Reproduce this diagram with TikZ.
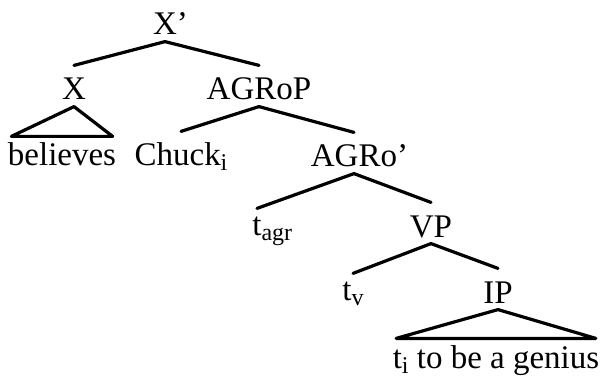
\documentclass[tikz,border=0pt]{standalone}
\usepackage{fontspec}
\setmainfont{Liberation Serif}
\usetikzlibrary{positioning}
\newcommand{\idx}[1]{\raisebox{-5pt}{\fontsize{24}{24}\selectfont #1}}

\begin{document}
\begin{tikzpicture}[x=1pt,y=-1pt,line width=3.2pt,line join=round,line cap=round,
        cat/.style={anchor=base,inner xsep=0pt,inner ysep=5pt,text height=28pt,text depth=0pt,font=\fontsize{33}{36}\selectfont},
        trace/.style={cat,text height=20pt},
        leaf/.style={cat,inner xsep=-5pt,inner ysep=2pt,text height=26pt}]

                \useasboundingbox (0,0) rectangle (601,379);

                \node[cat] (xbar) at (165,35) {X\rlap{’}};

                \node[cat] (x) at (74,100) {X};

                \node[cat] (agrop) at (259,100) {AGRoP};

                \node[leaf] (believes) at (62,166) {believes};

                \node[cat] (chuck) at (181,166) {Chuck\idx{i}};

                \node[cat] (agro) at (354,167) {AGRo\rlap{’}};

                \node[trace] (tagr) at (257,235) {t\rlap{\idx{agr}}};

                \node[cat] (vp) at (431,237) {VP};

                \node[trace] (tv) at (353,300) {t\idx{v}};

                \node[cat] (ip) at (498,303) {IP};

                \node[leaf] (genius) at (496,368) {t\idx{i} to be a genius};

                

                \foreach \from/\to in {xbar/x, xbar/agrop, agrop/chuck, agrop/agro, agro/tagr, agro/vp, vp/tv, vp/ip}
                    {
                    \draw (\from.south) -- (\to.north);
                    }


                \foreach \from/\to in {x/believes, ip/genius}
                    {
                    \draw (\from.south) -- (\to.north east) -- (\to.north west) -- cycle;
                    }

            \end{tikzpicture}
\end{document}
